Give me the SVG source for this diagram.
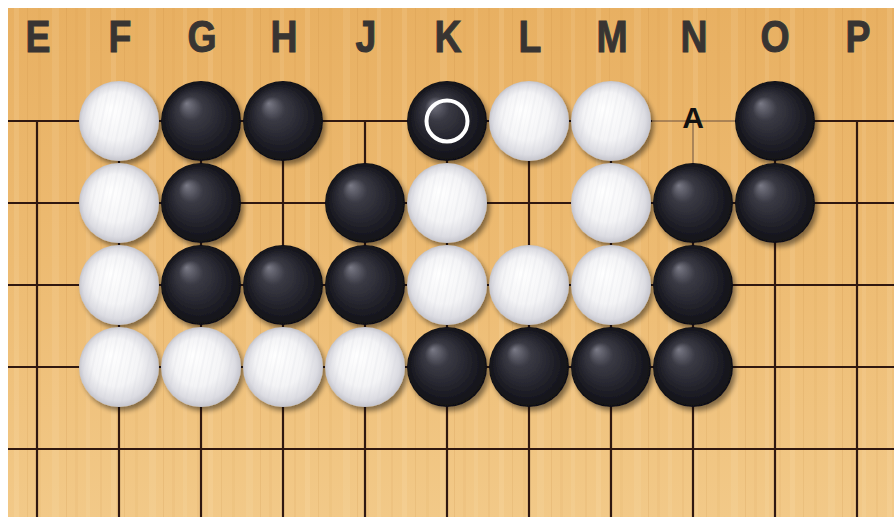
<svg xmlns="http://www.w3.org/2000/svg" xmlns:xlink="http://www.w3.org/1999/xlink" width="894" height="517" viewBox="0 0 894 517">
<style>
.grid line{stroke:#301810;stroke-width:2.2;stroke-linecap:butt}
.grid line.thin{stroke:#6a5040;stroke-width:1}
.col{font-family:"Liberation Sans",Arial,sans-serif;font-weight:bold;font-size:44px;fill:#383432;stroke:#383432;stroke-width:1;text-anchor:middle}
.lbl{font-family:"Liberation Sans",Arial,sans-serif;font-weight:bold;font-size:30px;fill:#111;text-anchor:middle}
</style>
<defs>
<linearGradient id="wood" x1="0" y1="0" x2="0" y2="1">
<stop offset="0" stop-color="#e8b062"/>
<stop offset="0.5" stop-color="#edbb72"/>
<stop offset="1" stop-color="#f2c988"/>
</linearGradient>
<pattern id="grain" patternUnits="userSpaceOnUse" width="97" height="517">
<rect x="3" y="0" width="2" height="517" fill="#b87a30" opacity="0.08"/>
<rect x="14" y="0" width="5" height="517" fill="#fff3d0" opacity="0.12"/>
<rect x="27" y="0" width="1" height="517" fill="#b87a30" opacity="0.12"/>
<rect x="38" y="0" width="3" height="517" fill="#c48a40" opacity="0.07"/>
<rect x="52" y="0" width="7" height="517" fill="#fff3d0" opacity="0.1"/>
<rect x="66" y="0" width="1" height="517" fill="#b87a30" opacity="0.14"/>
<rect x="75" y="0" width="3" height="517" fill="#c48a40" opacity="0.08"/>
<rect x="86" y="0" width="4" height="517" fill="#fff3d0" opacity="0.1"/>
</pattern>
<radialGradient id="bg" cx="0.5" cy="0.5" r="0.5" fx="0.32" fy="0.28">
<stop offset="0" stop-color="#7a7a86"/>
<stop offset="0.3" stop-color="#3a3a44"/>
<stop offset="0.75" stop-color="#1e1e26"/>
<stop offset="1" stop-color="#101016"/>
</radialGradient>
<radialGradient id="wg" cx="0.5" cy="0.5" r="0.5" fx="0.4" fy="0.35">
<stop offset="0" stop-color="#ffffff"/>
<stop offset="0.6" stop-color="#f4f4f6"/>
<stop offset="0.88" stop-color="#dcdce2"/>
<stop offset="1" stop-color="#c4c4cc"/>
</radialGradient>
<pattern id="wstripe" patternUnits="userSpaceOnUse" width="9" height="9" patternTransform="rotate(12)">
<rect x="0" y="0" width="2" height="9" fill="#c8ccd6" opacity="0.3"/>
<rect x="5" y="0" width="1" height="9" fill="#d4d6de" opacity="0.25"/>
</pattern>
<filter id="sh" x="-30%" y="-30%" width="170%" height="170%">
<feGaussianBlur in="SourceAlpha" stdDeviation="2.5"/>
<feOffset dx="3" dy="4" result="b"/>
<feComponentTransfer><feFuncA type="linear" slope="0.45"/></feComponentTransfer>
<feMerge><feMergeNode/><feMergeNode in="SourceGraphic"/></feMerge>
</filter>
<g id="b">
<circle r="40" fill="url(#bg)" filter="url(#sh)"/>
</g>
<g id="w">
<circle r="40" fill="url(#wg)" filter="url(#sh)"/>
<circle r="39" fill="url(#wstripe)" opacity="0.45"/>
</g>
</defs>
<rect width="894" height="517" fill="#ffffff"/>
<g id="board">
<rect x="8" y="8" width="886" height="509" fill="url(#wood)"/>
<rect x="8" y="8" width="886" height="509" fill="url(#grain)"/>
</g>
<g id="coords">
<text class="col" transform="translate(38,52) scale(0.85,1)">E</text>
<text class="col" transform="translate(120,52) scale(0.85,1)">F</text>
<text class="col" transform="translate(202,52) scale(0.85,1)">G</text>
<text class="col" transform="translate(284,52) scale(0.85,1)">H</text>
<text class="col" transform="translate(366,52) scale(0.85,1)">J</text>
<text class="col" transform="translate(448,52) scale(0.85,1)">K</text>
<text class="col" transform="translate(530,52) scale(0.85,1)">L</text>
<text class="col" transform="translate(612,52) scale(0.85,1)">M</text>
<text class="col" transform="translate(694,52) scale(0.85,1)">N</text>
<text class="col" transform="translate(775,52) scale(0.85,1)">O</text>
<text class="col" transform="translate(858,52) scale(0.85,1)">P</text>
</g>
<g id="connectors" class="grid">
<line x1="8" y1="121" x2="652" y2="121"/>
<line class="thin" x1="652" y1="121" x2="735" y2="121"/>
<line x1="735" y1="121" x2="894" y2="121"/>
<line x1="8" y1="203" x2="894" y2="203"/>
<line x1="8" y1="285" x2="894" y2="285"/>
<line x1="8" y1="367" x2="894" y2="367"/>
<line x1="8" y1="449" x2="894" y2="449"/>
<line x1="37" y1="120" x2="37" y2="517"/>
<line x1="119" y1="120" x2="119" y2="517"/>
<line x1="201" y1="120" x2="201" y2="517"/>
<line x1="283" y1="120" x2="283" y2="517"/>
<line x1="365" y1="120" x2="365" y2="517"/>
<line x1="447" y1="120" x2="447" y2="517"/>
<line x1="529" y1="120" x2="529" y2="517"/>
<line x1="611" y1="120" x2="611" y2="517"/>
<line class="thin" x1="693" y1="121" x2="693" y2="164"/>
<line x1="693" y1="164" x2="693" y2="517"/>
<line x1="775" y1="120" x2="775" y2="517"/>
<line x1="857" y1="120" x2="857" y2="517"/>
</g>
<g id="stones">
<g id="F1"><use xlink:href="#w" x="119" y="121"/></g>
<g id="G1"><use xlink:href="#b" x="201" y="121"/></g>
<g id="H1"><use xlink:href="#b" x="283" y="121"/></g>
<g id="K1"><use xlink:href="#b" x="447" y="121"/><circle cx="447" cy="121" r="20.5" fill="none" stroke="#ffffff" stroke-width="4"/></g>
<g id="L1"><use xlink:href="#w" x="529" y="121"/></g>
<g id="M1"><use xlink:href="#w" x="611" y="121"/></g>
<g id="N1"><text class="lbl" x="693" y="128">A</text></g>
<g id="O1"><use xlink:href="#b" x="775" y="121"/></g>
<g id="F2"><use xlink:href="#w" x="119" y="203"/></g>
<g id="G2"><use xlink:href="#b" x="201" y="203"/></g>
<g id="J2"><use xlink:href="#b" x="365" y="203"/></g>
<g id="K2"><use xlink:href="#w" x="447" y="203"/></g>
<g id="M2"><use xlink:href="#w" x="611" y="203"/></g>
<g id="N2"><use xlink:href="#b" x="693" y="203"/></g>
<g id="O2"><use xlink:href="#b" x="775" y="203"/></g>
<g id="F3"><use xlink:href="#w" x="119" y="285"/></g>
<g id="G3"><use xlink:href="#b" x="201" y="285"/></g>
<g id="H3"><use xlink:href="#b" x="283" y="285"/></g>
<g id="J3"><use xlink:href="#b" x="365" y="285"/></g>
<g id="K3"><use xlink:href="#w" x="447" y="285"/></g>
<g id="L3"><use xlink:href="#w" x="529" y="285"/></g>
<g id="M3"><use xlink:href="#w" x="611" y="285"/></g>
<g id="N3"><use xlink:href="#b" x="693" y="285"/></g>
<g id="F4"><use xlink:href="#w" x="119" y="367"/></g>
<g id="G4"><use xlink:href="#w" x="201" y="367"/></g>
<g id="H4"><use xlink:href="#w" x="283" y="367"/></g>
<g id="J4"><use xlink:href="#w" x="365" y="367"/></g>
<g id="K4"><use xlink:href="#b" x="447" y="367"/></g>
<g id="L4"><use xlink:href="#b" x="529" y="367"/></g>
<g id="M4"><use xlink:href="#b" x="611" y="367"/></g>
<g id="N4"><use xlink:href="#b" x="693" y="367"/></g>
</g>
</svg>
